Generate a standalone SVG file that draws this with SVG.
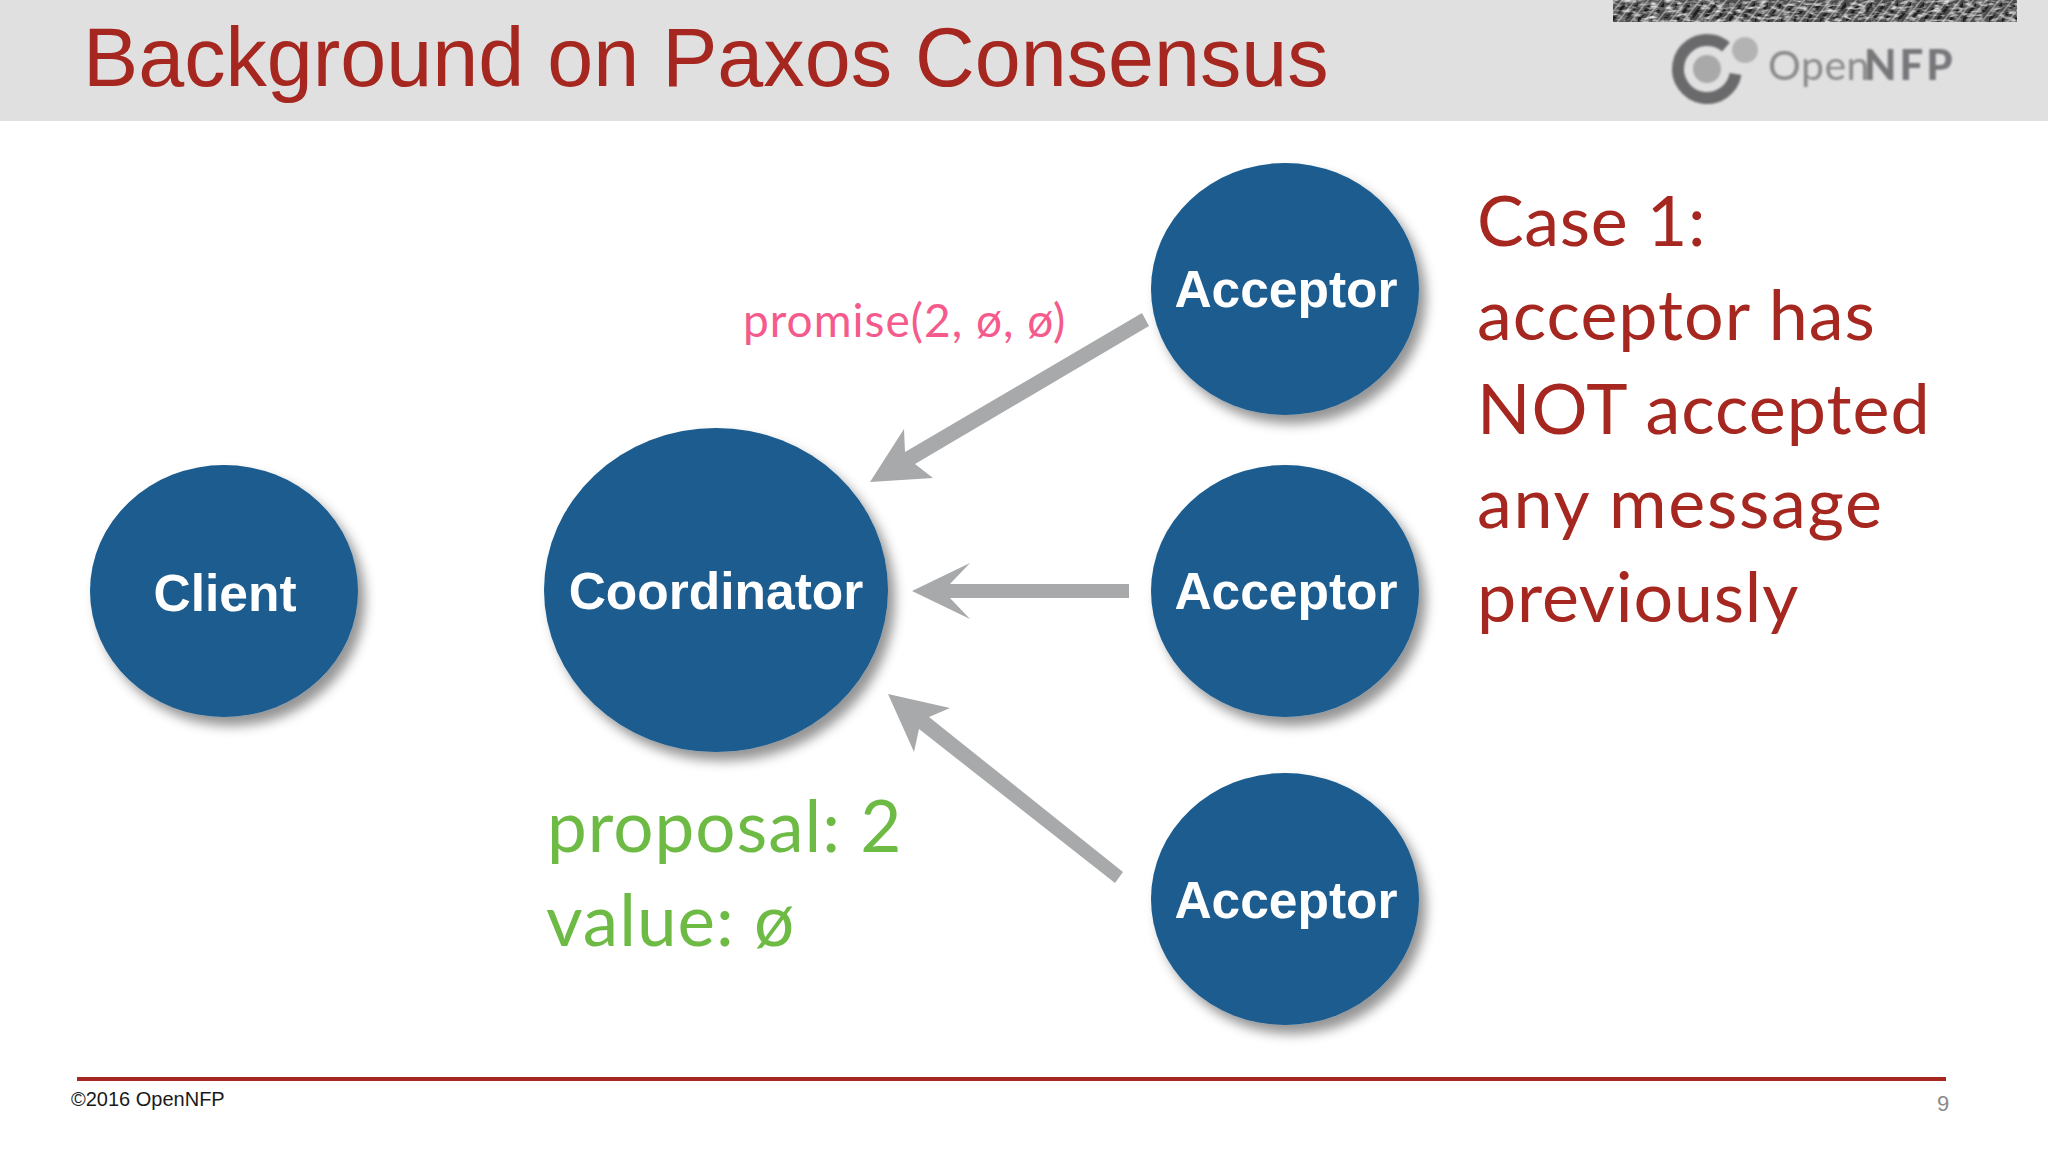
<svg xmlns="http://www.w3.org/2000/svg" width="2048" height="1152" viewBox="0 0 2048 1152">
<defs>
<filter id="shadow" x="-20%" y="-20%" width="145%" height="145%"><feDropShadow dx="7" dy="9" stdDeviation="6" flood-color="#000" flood-opacity="0.42"/></filter>
<filter id="blur"><feGaussianBlur stdDeviation="0.9"/></filter>
<filter id="grain" x="0" y="0" width="100%" height="100%"><feTurbulence type="fractalNoise" baseFrequency="0.12 0.3" numOctaves="2" seed="4"/><feColorMatrix values="0 0 0 0 0.75 0 0 0 0 0.75 0 0 0 0 0.75 2.6 0 0 0 -1.1"/></filter>
<pattern id="noise" width="13" height="22" patternUnits="userSpaceOnUse"><rect width="13" height="22" fill="#4d4d4d"/><path d="M-3 24L18 -2" stroke="#1f1f1f" stroke-width="3"/><path d="M-9 24L12 -2M4 24L25 -2" stroke="#8f8f8f" stroke-width="1.6"/></pattern>
</defs>
<style>
.node{fill:#1a5b8f;filter:url(#shadow)}
.lbl{font:bold 51.5px "Liberation Sans",Arial,sans-serif;fill:#fff;text-anchor:middle}
.av{font-family:Lato,"Noto Sans",sans-serif;letter-spacing:1px}
.case{font-size:70px;fill:#a5271f}
.green{font-size:71px;fill:#6dbb45}
.arrow{fill:#a7a9ab}
</style>
<rect width="2048" height="1152" fill="#fff"/>
<g id="header">
<rect width="2048" height="121" fill="#e0e0e1"/>
<rect x="1613" width="404" height="22" fill="url(#noise)"/>
<rect x="1613" width="404" height="22" filter="url(#grain)"/>
<text x="83" y="86" font-family="Liberation Sans,Arial,sans-serif" font-size="82.7" fill="#a5271f">Background on Paxos Consensus</text>
<g id="logo" filter="url(#blur)">
<circle cx="1707" cy="69" r="29" fill="none" stroke="#6b6b6c" stroke-width="12" stroke-dasharray="152 30" transform="rotate(10 1707 69)"/>
<circle cx="1707" cy="69" r="14" fill="#a9a9aa"/>
<circle cx="1745" cy="50" r="13" fill="#b3b3b4"/>
<text x="1768" y="80" font-family="Lato,sans-serif" font-size="41" letter-spacing="0.5" fill="#8a8a8b">Open</text>
<text x="1864" y="80" font-family="Lato,sans-serif" font-weight="900" font-size="42" letter-spacing="3" fill="#77777a">NFP</text>
</g>
</g>
<g id="connectors">
<polygon class="arrow" points="1142,313 1149,326 915,464 933,478 870,482 904,429 905,452"/>
<polygon class="arrow" points="1129,584 950,584 970,563 912,591 970,619 950,598 1129,598"/>
<polygon class="arrow" points="1123,872 1115,883 919,729 914,752 888,694 950,708 929,717"/>
</g>
<g id="client"><ellipse class="node" cx="224" cy="591" rx="134" ry="126"/><text class="lbl" x="225" y="611">Client</text></g>
<g id="coordinator"><ellipse class="node" cx="716" cy="590" rx="172" ry="162"/><text class="lbl" x="716" y="609">Coordinator</text></g>
<g id="acceptor1"><ellipse class="node" cx="1285" cy="289" rx="134" ry="126"/><text class="lbl" x="1286" y="307">Acceptor</text></g>
<g id="acceptor2"><ellipse class="node" cx="1285" cy="591" rx="134" ry="126"/><text class="lbl" x="1286" y="609">Acceptor</text></g>
<g id="acceptor3"><ellipse class="node" cx="1285" cy="899" rx="134" ry="126"/><text class="lbl" x="1286" y="918">Acceptor</text></g>
<text class="av" x="743" y="337" font-size="46" letter-spacing="1.2" fill="#f45b8c">promise(2, ø, ø)</text>
<text class="av green" x="547" y="852">proposal: 2</text>
<text class="av green" x="546" y="946">value: ø</text>
<g class="av case">
<text x="1477" y="246" letter-spacing="0.6">Case 1:</text>
<text x="1477" y="340">acceptor has</text>
<text x="1477" y="434">NOT accepted</text>
<text x="1477" y="528" letter-spacing="1.7">any message</text>
<text x="1477" y="622" letter-spacing="0.8">previously</text>
</g>
<rect x="77" y="1077" width="1869" height="4" fill="#a5271f"/>
<text x="71" y="1106" font-family="Liberation Sans,Arial,sans-serif" font-size="20" fill="#1a1a1a">©2016 OpenNFP</text>
<text x="1937" y="1111" font-family="Liberation Sans,Arial,sans-serif" font-size="22" fill="#8a8a8a">9</text>
</svg>
